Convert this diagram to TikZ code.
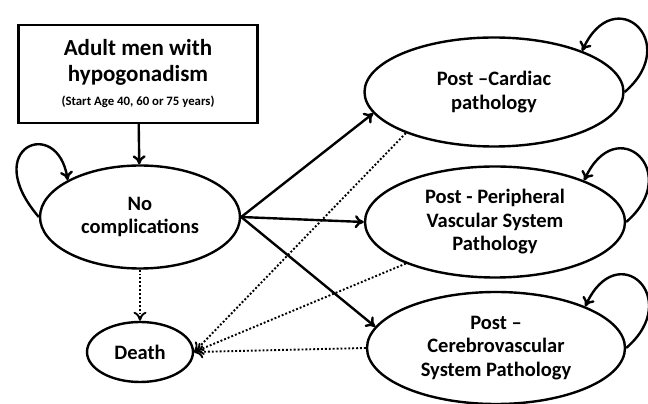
\documentclass[tikz,border=0pt]{standalone}
\usepackage{fontspec}
\setmainfont{Carlito}
\usetikzlibrary{shapes.geometric,arrows.meta}

\begin{document}
\begin{tikzpicture}[x=1pt,y=1pt,
                    every node/.style={font=\bfseries\fontsize{20.5}{23.5}\selectfont,align=center},
                    state/.style={draw,ellipse,line width=2.4pt,inner sep=0pt},
                    go/.style={line width=2.4pt,-{To[length=9pt,width=13pt]}},
                    die/.style={line width=1.9pt,dotted,-{To[length=9pt,width=13pt]}}]
    \useasboundingbox (0,0) rectangle (648,404);
    \node[draw,line width=2.4pt,minimum width=239,minimum height=98,
          font=\bfseries\fontsize{23}{25.5}\selectfont] (start) at (138,330)
        {Adult men with\\hypogonadism\\[-1pt]{\fontsize{12.8}{15}\selectfont(Start Age 40, 60 or 75 years)}};
    \node[state,minimum width=200,minimum height=103] (nc) at (140,187) {No\\complications};
    \node[state,minimum width=106,minimum height=60] (death) at (140,52) {Death};
    \node[state,minimum width=259,minimum height=109] (card) at (494,312) {Post --Cardiac\\pathology};
    \node[state,minimum width=260,minimum height=111] (peri) at (495,182) {Post - Peripheral\\Vascular System\\Pathology};
    \node[state,minimum width=258,minimum height=112] (cere) at (496,56) {Post --\\Cerebrovascular\\System Pathology};

    \draw[go] (start) -- (nc);
    \draw[go] (nc.west) .. controls +(-60,70) and +(-10,65) .. (nc.153);
    \draw[go] (nc.east) -- (card.190);
    \draw[go] (nc.east) -- (peri.west);
    \draw[go] (nc.east) -- (cere.170);
    \foreach \s in {card,peri,cere}
        \draw[go] (\s.east) .. controls +(58,50) and +(32,70) .. (\s.25);
    \draw[die] (nc) -- (death);
    \draw[die] (card.205) -- (death.east);
    \draw[die] (peri.205) -- (death.east);
    \draw[die] (cere.west) -- (death.east);
\end{tikzpicture}
\end{document}
